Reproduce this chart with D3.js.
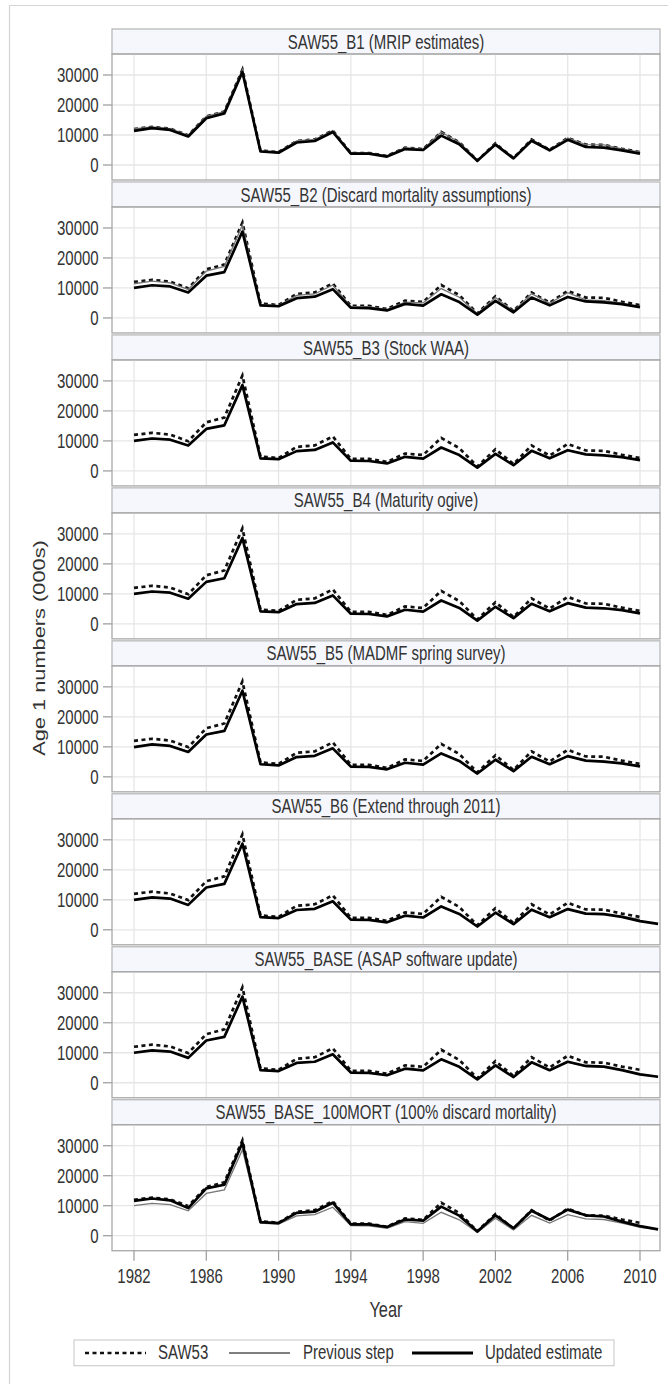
<!DOCTYPE html>
<html><head><meta charset="utf-8">
<script src="https://cdn.jsdelivr.net/npm/d3@7"></script>
<style>html,body{margin:0;padding:0;background:#fff;} svg{display:block;}</style>
</head><body>
<svg id="chart" width="668" height="1384"></svg>
<script>
// ---------------- data ----------------
const years = [1982,1983,1984,1985,1986,1987,1988,1989,1990,1991,1992,1993,1994,1995,1996,1997,1998,1999,2000,2001,2002,2003,2004,2005,2006,2007,2008,2009,2010];
const yearsExt = [1982,1983,1984,1985,1986,1987,1988,1989,1990,1991,1992,1993,1994,1995,1996,1997,1998,1999,2000,2001,2002,2003,2004,2005,2006,2007,2008,2009,2010,2011];
const panelTitles = [
  "SAW55_B1 (MRIP estimates)",
  "SAW55_B2 (Discard mortality assumptions)",
  "SAW55_B3 (Stock WAA)",
  "SAW55_B4 (Maturity ogive)",
  "SAW55_B5 (MADMF spring survey)",
  "SAW55_B6 (Extend through 2011)",
  "SAW55_BASE (ASAP software update)",
  "SAW55_BASE_100MORT (100% discard mortality)"
];
const saw53 = [12000,12700,12100,9900,16200,17800,31800,4800,4300,8000,8500,11500,4000,4000,3000,5800,5300,11000,7600,1500,7200,2300,8500,5100,9000,6800,6700,5400,4300];
const b1    = [11400,12300,11700,9500,15600,17200,31000,4500,4100,7500,8000,11000,3800,3800,2800,5300,5000,9800,6900,1400,6800,2200,8100,4900,8400,6000,5800,4900,3800];
const b2    = [10000,10900,10500,8500,14100,15300,28800,4200,3900,6600,7100,9600,3400,3300,2500,4700,4100,7900,5300,1100,5700,1900,6800,4200,7000,5500,5200,4600,3600];
const b3    = [10000,10800,10400,8500,14000,15200,28600,4200,3900,6600,7000,9500,3400,3300,2500,4700,4100,7800,5300,1100,5700,1900,6700,4200,6900,5500,5200,4600,3600];
const b4    = [10000,10800,10400,8400,14000,15200,28600,4200,3900,6600,7000,9500,3400,3300,2500,4700,4100,7800,5300,1100,5700,1900,6700,4200,6900,5400,5200,4600,3500];
const b5    = [9900,10800,10300,8300,14100,15300,28700,4200,3800,6600,7000,9500,3400,3300,2500,4700,4100,7800,5300,1100,5700,1900,6700,4200,6900,5400,5100,4500,3500];
const b6    = [10000,10800,10400,8300,14100,15300,28700,4200,3900,6600,7000,9500,3400,3300,2500,4700,4100,7800,5300,1100,5700,1900,6700,4200,6900,5400,5200,4300,2900,2000];
const base  = [10000,10800,10400,8300,14100,15300,28700,4200,3900,6600,7000,9500,3400,3300,2500,4700,4100,7800,5300,1100,5800,1900,6800,4200,7000,5600,5400,4200,2800,2000];
const base100 = [11600,12400,11800,9200,15800,17000,31000,4500,4200,7600,8000,11000,3800,3800,2900,5400,5000,9700,6700,1400,6800,2500,8300,5300,8700,6800,6400,4700,3200,2100];
const yTicks = [0,10000,20000,30000];
const xTicks = [1982,1986,1990,1994,1998,2002,2006,2010];
const legendLabels = ["SAW53","Previous step","Updated estimate"];
const yTitle = "Age 1 numbers (000s)";
const xTitle = "Year";

// -------------- layout ---------------
const svg = d3.select("#chart");
const L = 112, R = 660, top0 = 29, stripH = 25, plotH = 126, pitch = 152.96;
const SY = 1.33, TXT = "#333";
const x = d3.scaleLinear().domain([1982, 2010]).range([134, 640]);

function text(g, px, py, str, anchor, size, rot) {
  return g.append("text")
    .attr("transform", `translate(${px},${py}) scale(1,${SY})` + (rot ? ` rotate(${rot})` : ""))
    .attr("text-anchor", anchor || "middle")
    .attr("font-family", "'Liberation Sans', Arial, sans-serif")
    .attr("font-size", size || 15)
    .attr("fill", TXT)
    .text(str);
}

// outer frame
svg.append("path").attr("d", "M9.5,1384 L9.5,5.5 L668,5.5").attr("fill", "none").attr("stroke", "#d4d4d4").attr("stroke-width", 1.2);

const series = [
  {prev: saw53, upd: b1, prevYears: years, updYears: years},
  {prev: b1, upd: b2, prevYears: years, updYears: years},
  {prev: b2, upd: b3, prevYears: years, updYears: years},
  {prev: b3, upd: b4, prevYears: years, updYears: years},
  {prev: b4, upd: b5, prevYears: years, updYears: years},
  {prev: b5, upd: b6, prevYears: years, updYears: yearsExt},
  {prev: b6, upd: base, prevYears: yearsExt, updYears: yearsExt},
  {prev: base, upd: base100, prevYears: yearsExt, updYears: yearsExt}
];

series.forEach((s, i) => {
  const st = top0 + i * pitch;
  const pt = st + stripH, pb = pt + plotH;
  const y = d3.scaleLinear().domain([-5000, 37000]).range([pb, pt]);
  const g = svg.append("g");
  // strip
  g.append("rect").attr("x", L).attr("y", st).attr("width", R - L).attr("height", stripH)
    .attr("fill", "#f5f7fd").attr("stroke", "#b4b4b4").attr("stroke-width", 1.2);
  text(g, (L + R) / 2, st + stripH / 2 + 7.1, panelTitles[i]);
  // grid
  g.selectAll(".gy").data(yTicks).enter().append("line")
    .attr("x1", L).attr("x2", R).attr("y1", d => y(d)).attr("y2", d => y(d))
    .attr("stroke", "#e6e6e6").attr("stroke-width", 1.3);
  g.selectAll(".gx").data(xTicks).enter().append("line")
    .attr("x1", d => x(d)).attr("x2", d => x(d)).attr("y1", pt).attr("y2", pb)
    .attr("stroke", "#e6e6e6").attr("stroke-width", 1.3);
  // y axis ticks and labels
  g.selectAll(".ty").data(yTicks).enter().append("line")
    .attr("x1", 103).attr("x2", L).attr("y1", d => y(d)).attr("y2", d => y(d))
    .attr("stroke", "#999").attr("stroke-width", 1.2);
  yTicks.forEach(t => text(g, 98.7, y(t) + 6.9, String(t), "end"));
  // lines
  const clipId = "clip" + i;
  svg.append("clipPath").attr("id", clipId).append("rect").attr("x", L).attr("y", pt).attr("width", R - L).attr("height", plotH);
  const lg = g.append("g").attr("clip-path", `url(#${clipId})`);
  const line = yrs => d3.line().x((d, k) => x(yrs[k])).y(d => y(d));
  lg.append("path").datum(saw53).attr("d", line(years)).attr("fill", "none")
    .attr("stroke", "#111").attr("stroke-width", 2.7).attr("stroke-dasharray", "4,3.5");
  lg.append("path").datum(s.prev).attr("d", line(s.prevYears)).attr("fill", "none")
    .attr("stroke", "#777").attr("stroke-width", 1.3);
  lg.append("path").datum(s.upd).attr("d", line(s.updYears)).attr("fill", "none")
    .attr("stroke", "#000").attr("stroke-width", 2.7).attr("stroke-linejoin", "round");
  // plot border
  g.append("rect").attr("x", L).attr("y", pt).attr("width", R - L).attr("height", plotH)
    .attr("fill", "none").attr("stroke", "#a8a8a8").attr("stroke-width", 1.3);
  if (i === series.length - 1) {
    g.selectAll(".tx").data(xTicks).enter().append("line")
      .attr("x1", d => x(d)).attr("x2", d => x(d)).attr("y1", pb).attr("y2", pb + 10)
      .attr("stroke", "#999").attr("stroke-width", 1.2);
    xTicks.forEach(t => text(g, x(t), 1283.3, String(t)));
  }
});

// axis titles
text(svg, 386, 1317.3, xTitle, "middle", 16.4);
text(svg, 45, 648, yTitle, "middle", 16.4, -90);

// legend
const lgd = svg.append("g");
lgd.append("rect").attr("x", 74).attr("y", 1340).attr("width", 540).attr("height", 25.7)
  .attr("fill", "#fff").attr("stroke", "#cfcfcf").attr("stroke-width", 1.2);
const ly = 1353;
const items = [
  {x1: 85, x2: 146, tx: 158, stroke: "#111", w: 2.7, dash: "4,3.5"},
  {x1: 229, x2: 290, tx: 303, stroke: "#555", w: 1.3, dash: null},
  {x1: 412, x2: 473, tx: 485, stroke: "#000", w: 3, dash: null}
];
items.forEach((it, k) => {
  const ln = lgd.append("line").attr("x1", it.x1).attr("x2", it.x2).attr("y1", ly).attr("y2", ly)
    .attr("stroke", it.stroke).attr("stroke-width", it.w);
  if (it.dash) ln.attr("stroke-dasharray", it.dash);
  text(lgd, it.tx, 1359, legendLabels[k], "start");
});
</script>
</body></html>
